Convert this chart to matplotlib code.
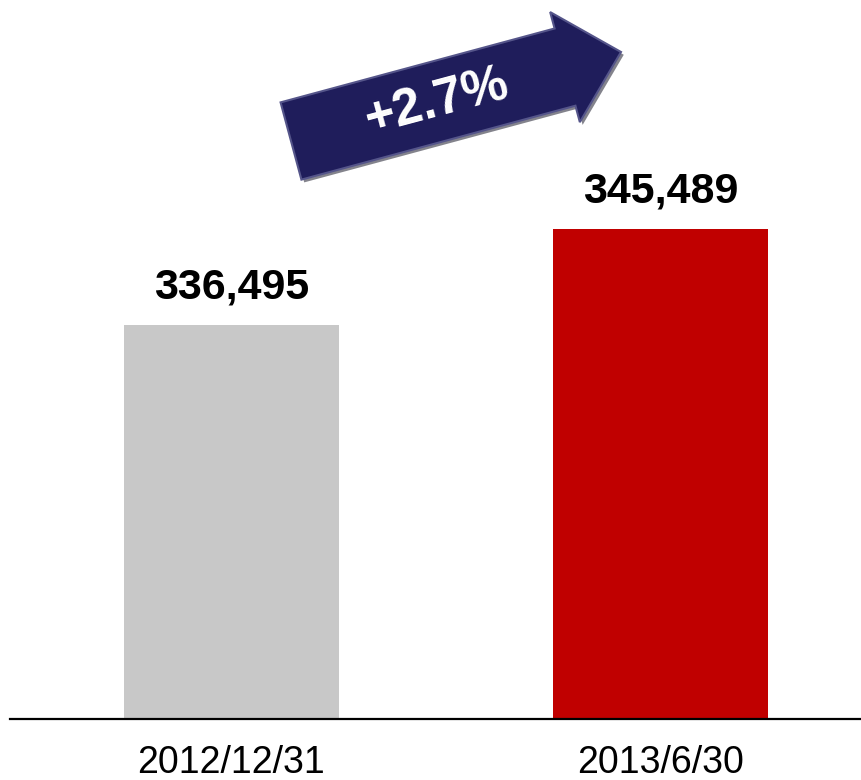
import matplotlib
matplotlib.use('Agg')
import matplotlib.pyplot as plt
import matplotlib.patches as mpatches
import matplotlib.transforms as mtransforms
import matplotlib.patheffects as pe

# data
categories = ['2012/12/31', '2013/6/30']
values = [336495, 345489]
bar_colors = ['#c8c8c8', '#c00000']
growth_label = '+2.7%'

plt.rcParams['font.family'] = ['Liberation Sans', 'DejaVu Sans']

W, H = 862, 780
fig = plt.figure(figsize=(W / 100, H / 100), dpi=100)
ax = fig.add_axes([10 / W, 61 / H, 1 - 10 / W, 719 / H])

x = list(range(len(categories)))
ax.bar(x, values, width=0.5, color=bar_colors)
ax.set_xlim(-0.516, 1.47)
ax.set_ylim(299600, 367000)

# value labels above bars
for xi, v in zip(x, values):
    ax.annotate(f'{v:,}', (xi, v), xytext=(0, 13), textcoords='offset points',
                ha='center', va='bottom', fontsize=31, fontweight='bold')

ax.set_xticks(x)
ax.set_xticklabels(categories, fontsize=27)
ax.tick_params(axis='x', length=0, pad=19)
ax.set_yticks([])
for side in ['left', 'right', 'top']:
    ax.spines[side].set_visible(False)
ax.spines['bottom'].set_linewidth(1.6)

# growth arrow (pixel coords, y down)
px = mtransforms.Affine2D().scale(1 / W, -1 / H).translate(0, 1) + fig.transFigure
arrow = mpatches.FancyArrow(291, 141, 330, -89, width=80, head_width=114,
                            head_length=58, length_includes_head=True,
                            transform=px, facecolor='#1f1d5b',
                            edgecolor='#55558a', linewidth=1.5)
arrow.set_path_effects([pe.SimplePatchShadow(offset=(2, -2), alpha=0.5), pe.Normal()])
fig.add_artist(arrow)
fig.text(437 / W, 1 - 102 / H, growth_label, rotation=15, color='white',
         fontsize=37, fontweight='bold', ha='center', va='center',
         rotation_mode='anchor')

fig.savefig('out.png', dpi=100)
